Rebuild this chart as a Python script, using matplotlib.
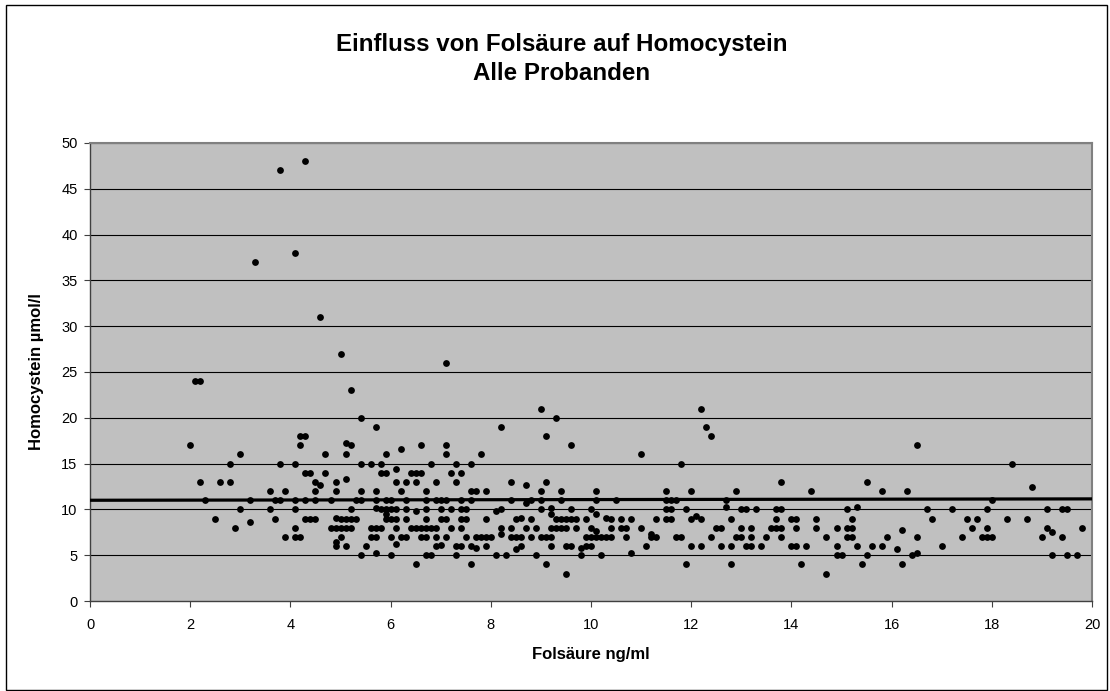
import numpy as np
import matplotlib
matplotlib.use("Agg")
import matplotlib.pyplot as plt
from matplotlib.patches import Rectangle

plt.rcParams['font.family'] = ['Liberation Sans', 'DejaVu Sans']

# Folsäure (ng/ml) und Homocystein (µmol/l)
folsaeure = [
    2.0, 2.1, 2.2, 3.0, 2.8, 3.8, 2.2, 2.6, 2.8, 3.6, 3.9, 2.3, 3.2, 3.7, 3.8, 3.0, 3.6, 2.5, 3.7, 2.9, 3.2, 3.9,
    3.8, 4.3, 4.1, 3.3, 4.6, 5.0, 7.1,
    5.2, 5.4, 5.7, 4.2, 4.3, 4.2, 5.1, 5.2, 4.7, 5.1, 5.9, 6.2, 6.6, 7.1, 7.1,
    4.1, 5.4, 5.6, 5.8, 6.8, 7.3, 7.6, 6.1,
    4.3, 4.4, 4.7, 5.8, 5.9, 6.4, 6.5, 6.6, 7.2, 7.4,
    4.5, 4.6, 4.9, 6.1, 6.3, 6.5, 6.9, 7.3, 5.1,
    4.5, 4.9, 5.4, 5.7, 6.2, 6.7, 7.6,
    4.1, 4.3, 4.5, 4.8, 5.3, 5.4, 5.7, 5.9, 6.0, 6.3, 6.7, 6.9, 7.0, 7.1, 7.4, 7.6,
    4.1, 5.2, 5.7, 5.8, 5.9, 6.0, 6.1, 5.9, 6.3, 6.5, 6.7, 7.0, 7.2, 7.4, 7.5,
    4.3, 4.4, 4.5, 4.9, 5.0, 5.1, 5.2, 5.3, 5.9, 6.0, 6.1, 6.3, 6.7, 7.0, 7.1, 7.4, 7.5,
    4.1, 4.8, 4.9, 5.0, 5.1, 5.2, 5.6, 5.7, 5.8, 6.1, 6.4, 6.5, 6.6, 6.7, 6.8, 6.9, 7.2, 7.4,
    4.1, 4.2, 5.0, 5.6, 5.7, 6.0, 6.2, 6.3, 6.6, 6.7, 6.9, 7.1, 7.5,
    4.9, 4.9, 5.1, 5.5, 6.1, 6.9, 7.0, 7.3, 7.4,
    5.4, 5.7, 6.0, 6.7, 6.8, 7.3,
    6.5, 7.6,
    7.7, 7.8, 7.9, 7.9, 7.6, 7.7, 7.7, 7.8, 7.9, 8.0, 7.9, 8.1, 8.1, 8.2, 8.2, 8.2, 8.2, 8.3, 8.4, 8.4,
    8.4, 8.4, 8.5, 8.6, 8.5, 8.6, 8.5, 8.6, 8.7, 8.7, 8.8, 8.7, 8.8, 8.8, 8.9, 8.9, 9.0, 9.0, 9.0, 9.0,
    9.0, 9.1, 9.2, 9.1, 9.1, 9.1, 9.2, 9.2, 9.2, 9.3, 9.4, 9.5, 9.2, 9.3, 9.3, 9.4, 9.5, 9.6, 9.7, 9.4,
    9.4, 9.5, 9.6, 9.5, 9.6, 9.6, 9.7, 9.8, 9.8, 9.9, 9.9, 10.0, 10.0, 10.0, 9.9, 10.0, 10.1, 10.2, 10.3, 10.4,
    10.1, 10.1, 10.1, 10.1, 10.2, 10.3, 10.4, 10.4, 10.5, 10.6, 10.6, 10.7, 10.7, 10.8, 10.8, 11.0, 11.0, 11.1, 11.2, 11.2,
    11.3, 11.3, 11.5, 11.5, 11.6, 11.7, 11.5, 11.6, 11.5, 11.6, 11.7, 11.8, 11.8, 11.9, 11.9, 12.0, 12.0, 12.0, 12.1, 12.2,
    12.2, 12.2, 12.3, 12.4, 12.4, 12.5, 12.6, 12.6, 12.7, 12.7, 12.8, 12.8, 12.8, 12.9, 12.9, 13.0, 13.0, 13.0, 13.1, 13.1,
    13.2, 13.2, 13.2, 13.3, 13.4, 13.5, 13.6, 13.7, 13.8, 13.7, 13.8, 13.7, 13.8, 13.8, 14.0, 14.1, 14.1, 14.0, 14.1, 14.2,
    14.3, 14.4, 14.5, 14.5, 14.7, 14.7,
    14.9, 14.9, 14.9, 15.0, 15.1, 15.1, 15.2, 15.1, 15.2, 15.2, 15.3, 15.3, 15.4, 15.5, 15.5, 15.6, 15.8, 15.8, 15.9, 16.1,
    16.2, 16.2, 16.3, 16.4, 16.5, 16.5, 16.5, 16.7, 16.8, 17.0, 17.2, 17.4, 17.5, 17.6, 17.7, 17.8, 17.9, 18.0, 17.9, 17.9,
    18.0, 18.3, 18.4,
    18.7, 18.8, 19.1, 19.4, 19.5, 19.1, 19.2, 19.0, 19.4, 19.8, 19.2, 19.5, 19.7,
]
homocystein = [
    17, 24, 24, 16, 15, 15, 13, 13, 13, 12, 12, 11, 11, 11, 11, 10, 10, 9, 9, 8, 8.6, 7,
    47, 48, 38, 37, 31, 27, 26,
    23, 20, 19, 18, 18, 17, 17.3, 17, 16, 16, 16, 16.6, 17, 17, 16,
    15, 15, 15, 15, 15, 15, 15, 14.4,
    14, 14, 14, 14, 14, 14, 14, 14, 14, 14,
    13, 12.7, 13, 13, 13, 13, 13, 13, 13.3,
    12, 12, 12, 12, 12, 12, 12,
    11, 11, 11, 11, 11, 11, 11, 11, 11, 11, 11, 11, 11, 11, 11, 11,
    10, 10, 10.2, 10, 10, 10, 10, 9.5, 10, 9.8, 10, 10, 10, 10, 10,
    9, 9, 9, 9.1, 9, 9, 9, 9, 9, 9, 9, 9, 9, 9, 9, 9, 9,
    8, 8, 8, 8, 8, 8, 8, 8, 8, 8, 8, 8, 8, 8, 8, 8, 8, 8,
    7, 7, 7, 7, 7, 7, 7, 7, 7, 7, 7, 7, 7,
    6.4, 6.0, 6, 6, 6.2, 6, 6.1, 6, 6,
    5, 5.2, 5, 5, 5, 5,
    4, 4,
    12, 16, 12, 9, 6, 5.8, 7, 7, 7, 7, 6, 5, 9.8, 10, 19, 8, 7.3, 5, 13, 11,
    8, 7, 7, 7, 9, 9.1, 5.7, 6, 12.7, 10.7, 11, 8, 9, 7, 8, 5, 21, 12, 11, 10,
    7, 7, 7, 18, 13, 4, 10.2, 9.5, 8, 8, 8, 8, 6, 20, 9, 9, 9, 9, 9, 12,
    11, 6, 6, 3, 17, 10, 8, 5.8, 5, 9, 6, 10, 8, 6, 7, 7, 7, 7, 7, 7,
    12, 11, 9.5, 7.6, 5, 9.1, 9, 8, 11, 9, 8, 8, 7, 9, 5.2, 16, 8, 6, 7, 7.3,
    7, 9, 12, 11, 11, 11, 10, 10, 9, 9, 7, 7, 15, 10, 4, 12, 9, 6, 9.3, 21,
    9, 6, 19, 18, 7, 8, 8, 6, 11, 10.3, 9, 6, 4, 12, 7, 10, 8, 7, 10, 6,
    8, 7, 6, 10, 6, 7, 8, 8, 8, 10, 10, 9, 13, 7, 9, 9, 8, 6, 6, 4,
    6, 12, 9, 8, 7, 3,
    8, 6, 5, 5, 10, 8, 8, 7, 7, 9, 10.3, 6, 4, 13, 5, 6, 12, 6, 7, 5.7,
    7.7, 4, 12, 5, 5.2, 17, 7, 10, 9, 6, 10, 7, 9, 8, 9, 7, 7, 7, 10, 8,
    11, 9, 15,
    9, 12.4, 10, 10, 10, 8, 7.5, 7, 7, 8, 5, 5, 5,
]

trend_x = [0, 20]
trend_y = [11.0, 11.15]

x_ticks = [0, 2, 4, 6, 8, 10, 12, 14, 16, 18, 20]
y_ticks = [0, 5, 10, 15, 20, 25, 30, 35, 40, 45, 50]

fig = plt.figure(figsize=(11.1, 6.91), dpi=100)
ax = fig.add_axes([0.0811, 0.1302, 0.9027, 0.6629])
ax.set_facecolor('#c0c0c0')

for yv in y_ticks[1:]:
    ax.axhline(yv, color='black', linewidth=0.8, zorder=1)

ax.scatter(folsaeure, homocystein, s=24, color='black', zorder=3, linewidths=0)
ax.plot(trend_x, trend_y, color='black', linewidth=2.3, zorder=4)

ax.set_xlim(0, 20)
ax.set_ylim(0, 50)
ax.set_xticks(x_ticks)
ax.set_yticks(y_ticks)
ax.tick_params(labelsize=10.5, length=4, width=0.8, color='#404040')
ax.tick_params(axis='x', pad=8)
ax.tick_params(axis='y', pad=5)

for side in ['top', 'right']:
    ax.spines[side].set_color('#808080')
    ax.spines[side].set_linewidth(1.5)
for side in ['left', 'bottom']:
    ax.spines[side].set_color('#404040')
    ax.spines[side].set_linewidth(1.0)

ax.set_xlabel('Folsäure ng/ml', fontsize=12, fontweight='bold', labelpad=11)
ax.set_ylabel('Homocystein µmol/l', fontsize=12, fontweight='bold', labelpad=12)

fig.text(0.506, 0.935, 'Einfluss von Folsäure auf Homocystein', ha='center', va='center',
         fontsize=17.4, fontweight='bold')
fig.text(0.506, 0.894, 'Alle Probanden', ha='center', va='center',
         fontsize=17.4, fontweight='bold')

fig.patches.append(Rectangle((6 / 1110, 1 / 691), 1101 / 1110, 685 / 691, transform=fig.transFigure,
                             fill=False, edgecolor='black', linewidth=1.0))

fig.savefig('out.png', dpi=100)
